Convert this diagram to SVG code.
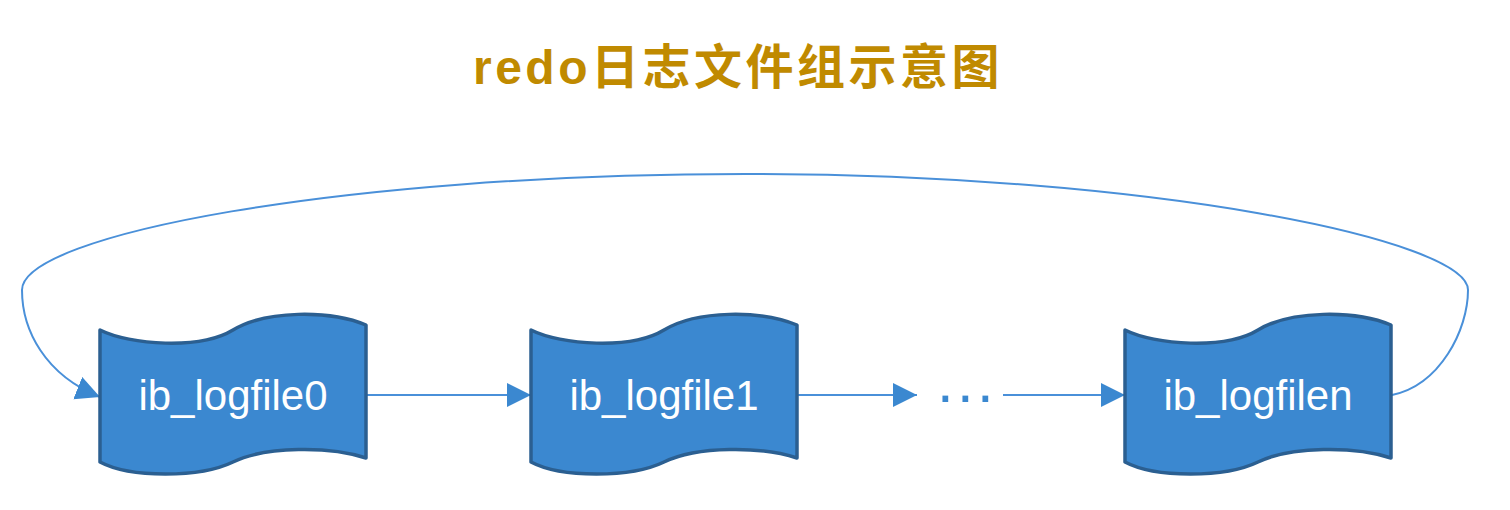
<svg xmlns="http://www.w3.org/2000/svg" xmlns:xlink="http://www.w3.org/1999/xlink" width="1510" height="510" viewBox="0 0 1510 510">
<style>
.tape{fill:#3b88d0;stroke:#2b5f91;stroke-width:3.5;stroke-linejoin:round}
.lbl{font-family:"Liberation Sans",Arial,sans-serif;font-size:42px;fill:#ffffff;text-anchor:middle}
.conn{fill:none;stroke:#4a90d9;stroke-width:2}
.title{font-family:"Liberation Sans","Noto Sans CJK SC",sans-serif;font-size:48px;font-weight:bold;fill:#c08a00;letter-spacing:3.5px}
.dots{font-family:"Liberation Sans",Arial,sans-serif;font-size:60px;fill:#3b88d0;letter-spacing:3.3px}
</style>
<defs>
<marker id="arr" markerUnits="userSpaceOnUse" markerWidth="26" markerHeight="26" refX="24" refY="12" orient="auto">
<path d="M0,0 L24,12 L0,24 Z" fill="#3b88d0"/>
</marker>
<path id="tapeShape" d="M0,330 C30,345 100,350 133,330 C166,310 230,310 266,325 L266,458 C230,446 166,446 133,462 C100,478 30,478 0,462 Z"/>
</defs>
<rect width="1510" height="510" fill="#ffffff"/>
<text class="title" x="738" y="84" text-anchor="middle">redo日志文件组示意图</text>
<g id="connectors">
<path class="conn" d="M367,395 L531,395" marker-end="url(#arr)"/>
<path class="conn" d="M797,395 L917,395" marker-end="url(#arr)"/>
<path class="conn" d="M1003,395 L1125,395" marker-end="url(#arr)"/>
<path class="conn" d="M1392,395 C1440,385 1468,330 1468,290 C1468,240 1150,174 745,174 C340,174 22,235 22,290 C22,330 45,375 100,397" marker-end="url(#arr)"/>
<text class="dots" x="937" y="402">...</text>
</g>
<g id="node-ib_logfile0">
<use xlink:href="#tapeShape" href="#tapeShape" class="tape" x="100"/>
<text class="lbl" x="233" y="410">ib_logfile0</text>
</g>
<g id="node-ib_logfile1">
<use xlink:href="#tapeShape" href="#tapeShape" class="tape" x="531"/>
<text class="lbl" x="664" y="410">ib_logfile1</text>
</g>
<g id="node-ib_logfilen">
<use xlink:href="#tapeShape" href="#tapeShape" class="tape" x="1125"/>
<text class="lbl" x="1258" y="410">ib_logfilen</text>
</g>
</svg>
